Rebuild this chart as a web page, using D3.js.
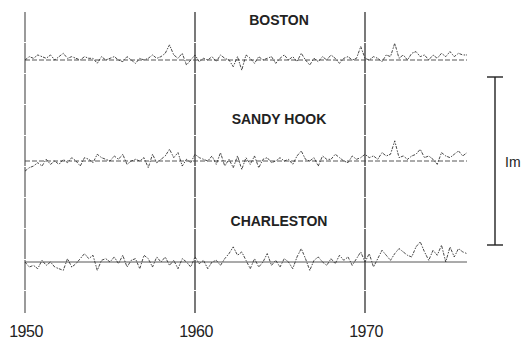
<!DOCTYPE html>
<html>
<head>
<meta charset="utf-8">
<script src="https://cdn.jsdelivr.net/npm/d3@7"></script>
<style>
  body { margin: 0; background: #fff; }
  svg { display: block; }
  text { font-family: "Liberation Sans", Arial, sans-serif; fill: #222; }
</style>
</head>
<body>
<svg id="chart" width="521" height="339"></svg>
<script>
// sea level departures (cm), quarterly samples from 1950.0
const startYear = 1950;
const stations = ["BOSTON", "SANDY HOOK", "CHARLESTON"];
const decadeTicks = [1950, 1960, 1970];

const boston = [
  0, 2, 1, 3, 2, 1, 3, 0, 2, 4, 1, 2, 1, 0, 2, 1, 1, -2, 2, 0,
  1, 2, 0, -1, 2, 0, -2, 1, 0, 1, 3, 1, 2, 4, 9, 3, 1, 4, -3, 0,
  3, -1, 1, 0, 2, -1, 3, 1, 0, -4, 2, -6, 3, 1, -2, 2, 0, 1, 2, -2,
  1, 3, 0, 2, -1, 4, 0, -3, 1, -1, 2, 0, 3, 1, -2, 1, 2, 0, 1, 8,
  1, 0, 2, 1, -1, 3, 2, 10, 1, 3, 0, 4, 5, 2, 3, 0, 3, 1, 4, 2,
  5, 2, 4, 3, 3
];
const sandyHook = [
  -6, -4, -3, -1, -3, 1, -2, 0, -2, 1, -1, 2, 0, -3, 2, 1, -1, 4, 2, 1,
  0, 3, 1, 4, -2, 0, 1, 0, 2, -4, 4, -1, 1, 3, 7, 2, 5, -3, 1, -1,
  4, 2, 1, 0, 3, -2, 5, -3, 1, -4, 3, -5, 2, -2, 3, -4, 1, 2, -1, 0,
  2, 0, 1, -2, 3, 6, 1, 0, 2, -3, 3, 1, 1, 4, 2, 0, -1, 3, 1, 2,
  4, 2, 3, 1, 5, 3, 4, 12, 2, 3, 1, 3, 4, 7, 2, 3, 1, -2, 5, 3,
  2, 4, 6, 3, 5
];
const charleston = [
  0, -3, -2, -4, 1, -2, 0, -3, -4, -5, 2, -3, -1, 2, 5, 2, 4, -5, 1, 2,
  0, 3, -1, 4, -3, 1, 2, -4, 4, 2, -3, 3, 0, 3, -2, 1, -4, 2, 0, -3,
  3, -1, 1, -4, 0, 1, -2, 2, 5, 9, 4, 6, 1, -4, 2, -3, 0, 5, -2, 1,
  -3, 2, 0, -4, 3, 8, 2, -5, 1, 3, 0, -2, 2, -1, 4, 1, 3, -2, 2, 6,
  0, 5, -3, 2, 7, 4, 1, 5, 8, 6, 4, 3, 9, 12, 6, 1, 7, 4, 10, 0,
  9, 3, 8, 6, 5
];
const seriesValues = [boston, sandyHook, charleston];
const scaleBarLabel = "Im";
const scaleBarCm = 100;

const svg = d3.select("#chart");

const x = d3.scaleLinear().domain([1950, 1970]).range([25, 365]);
// 1 m = 168 px
const cmToPx = d3.scaleLinear().domain([0, 100]).range([0, 168]);
const baselines = [60, 161, 262];
const dataEnd = startYear + (boston.length - 1) / 4;

// decade verticals
svg.append("g")
  .selectAll("line")
  .data(decadeTicks)
  .join("line")
  .attr("x1", (d) => x(d))
  .attr("x2", (d) => x(d))
  .attr("y1", 12)
  .attr("y2", 313)
  .attr("stroke", (d, i) => (i === 0 ? "#666" : "#333"))
  .attr("stroke-width", 1.3)
  .attr("stroke-dasharray", "30,1");

svg.append("g")
  .selectAll("text")
  .data(decadeTicks)
  .join("text")
  .attr("x", (d) => x(d) + 1)
  .attr("y", 337)
  .attr("text-anchor", "middle")
  .style("font-size", "16px")
  .style("letter-spacing", "-0.5px")
  .text((d) => d);

// station baselines
svg.append("g")
  .selectAll("line")
  .data(baselines)
  .join("line")
  .attr("x1", x(1950))
  .attr("x2", x(dataEnd))
  .attr("y1", (d) => d)
  .attr("y2", (d) => d)
  .attr("stroke", "#444")
  .attr("stroke-width", 0.9)
  .attr("stroke-dasharray", (d, i) => (i === 2 ? null : "5,2"));

// station titles
svg.append("g")
  .selectAll("text")
  .data(stations)
  .join("text")
  .attr("x", 279)
  .attr("y", (d, i) => [25, 124, 226][i])
  .attr("text-anchor", "middle")
  .style("font-size", "14px")
  .style("font-weight", "bold")
  .text((d) => d);

// sea level traces
const traces = svg.append("g");
seriesValues.forEach((vals, si) => {
  const line = d3.line()
    .x((d, i) => x(startYear + i / 4))
    .y((d) => baselines[si] - cmToPx(d));
  traces.append("path")
    .datum(vals)
    .attr("d", line)
    .attr("fill", "none")
    .attr("stroke", "#333")
    .attr("stroke-width", 0.9)
    .attr("stroke-linejoin", "round")
    .attr("stroke-dasharray", "3,1.5,1.5,1");
});

// 1 m scale bar
const barX = 495;
const barTop = 77;
const bar = svg.append("g").attr("stroke", "#222").attr("stroke-width", 1.4);
bar.append("line")
  .attr("x1", barX).attr("x2", barX)
  .attr("y1", barTop).attr("y2", barTop + cmToPx(scaleBarCm));
[barTop, barTop + cmToPx(scaleBarCm)].forEach((y) => {
  bar.append("line")
    .attr("x1", barX - 8).attr("x2", barX + 8)
    .attr("y1", y).attr("y2", y);
});
svg.append("text")
  .attr("x", 505)
  .attr("y", 167)
  .style("font-size", "14px")
  .text(scaleBarLabel);
</script>
</body>
</html>
